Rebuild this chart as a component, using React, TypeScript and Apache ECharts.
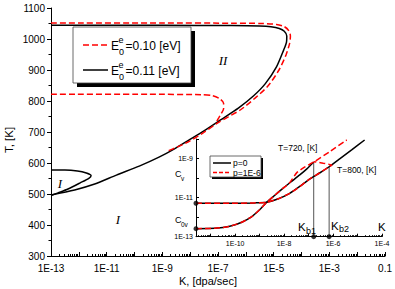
import { useEffect, useRef } from "react";
import * as echarts from "echarts";

// ---------- Main chart: points are [log10 K (dpa/sec), T (K)] ----------
const blackMain: number[][] = [
  [-13, 1044], [-9, 1044], [-6.5, 1043.5], [-5.5, 1042], [-5.1, 1039.5], [-4.8, 1034],
  [-4.62, 1025], [-4.53, 1010], [-4.54, 990], [-4.64, 965], [-4.9, 910], [-5.3, 856],
  [-5.73, 816], [-6.27, 777], [-6.91, 739], [-7.52, 703], [-8.05, 674], [-8.58, 645],
  [-9.12, 619], [-9.83, 590], [-10.65, 561], [-11.43, 532], [-12.15, 513], [-13, 497],
];
const blackLoopI: number[][] = [
  [-13, 577.5], [-12.5, 577.5], [-12.05, 574.5], [-11.73, 568], [-11.56, 560], [-11.63, 551.5],
  [-11.95, 536], [-12.39, 516], [-12.75, 503.5], [-13, 495],
];
const redUpper: number[][] = [
  [-13, 1051.5], [-9, 1051.5], [-6.5, 1051], [-5.4, 1050], [-4.9, 1047], [-4.62, 1040],
  [-4.46, 1027], [-4.4, 1010], [-4.43, 985], [-4.56, 948], [-4.81, 900], [-5.2, 849],
  [-5.66, 810], [-6.2, 771], [-6.63, 749], [-6.98, 731], [-7.52, 698], [-8.05, 669],
  [-8.48, 651], [-8.83, 638],
];
const redLoop: number[][] = [
  [-13, 821.5], [-9.5, 821.5], [-7.6, 820.5], [-7.2, 817], [-6.95, 808], [-6.8, 793],
  [-6.8, 775], [-6.88, 760], [-6.97, 746], [-7.05, 734],
];

// ---------- Inset: points are [log10 K, log10 Cv] ----------
const c720Black: number[][] = [
  [-11.6, -12.59], [-10.83, -12.57], [-10.22, -12.47], [-9.73, -12.26], [-9.32, -11.97],
  [-8.99, -11.61], [-8.72, -11.25], [-8.39, -10.89], [-8.05, -10.53], [-7.77, -10.24],
  [-7.36, -9.84], [-7.07, -9.53], [-6.79, -9.18],
];
const c720Red: number[][] = [
  [-11.6, -12.59], [-10.83, -12.57], [-10.22, -12.47], [-9.73, -12.26], [-9.32, -11.97],
  [-8.99, -11.61], [-8.72, -11.25], [-8.39, -10.89], [-8.05, -10.53], [-7.77, -10.24],
  [-7.48, -9.72], [-7.15, -9.43], [-6.79, -9.18], [-6.13, -8.64], [-5.44, -8.05],
];
const c800Black: number[][] = [
  [-11.6, -11.29], [-10.22, -11.29], [-9.2, -11.27], [-8.72, -11.24], [-8.26, -11.07],
  [-7.77, -10.78], [-7.36, -10.43], [-6.96, -10.05], [-6.55, -9.74], [-6.16, -9.42],
  [-5.73, -9.02], [-5.24, -8.56], [-4.71, -8.05],
];
const c800Red: number[][] = [
  [-11.6, -11.29], [-10.22, -11.29], [-9.2, -11.27], [-8.72, -11.24], [-8.26, -11.07],
  [-7.77, -10.78], [-7.36, -10.43], [-6.96, -10.05], [-6.55, -9.74], [-6.16, -9.42],
  [-6.05, -9.34], [-6.4, -9.24], [-6.79, -9.16],
];
const kb1Line: number[][] = [[-6.79, -13], [-6.79, -9.18]];
const kb2Line: number[][] = [[-6.16, -13], [-6.16, -9.42]];
const insetDots: number[][] = [[-11.6, -11.29], [-11.6, -12.59], [-6.79, -13], [-6.16, -13]];

// ---------- Tick labels ----------
const mainXLabelExps = [-13, -11, -9, -7, -5, -3, -1];
const mainXDecades = [-13, -12, -11, -10, -9, -8, -7, -6, -5, -4, -3, -2, -1];
const insetXLabelExps = [-10, -8, -6, -4];
const insetXDecades = [-11, -10, -9, -8, -7, -6, -5, -4];
const insetYLabelExps = [-13, -11, -9];
const insetYDecades = [-13, -12, -11, -10, -9, -8];

const FONT = "'Liberation Sans', Arial, Helvetica, sans-serif";
const SERIF = "'Liberation Serif', 'Times New Roman', serif";
const RED = "#ff0000";

function minorLogTicks(fromDec: number, toDec: number, lo: number, hi: number) {
  const out: number[] = [];
  for (let d = fromDec; d <= toDec; d++) {
    for (let m = 2; m <= 9; m++) {
      const v = d + Math.log10(m);
      if (v > lo && v < hi) out.push(v);
    }
  }
  return out;
}

function txt(x: number, y: number, text: string, fontSize: number, extra: any = {}, rotation = 0) {
  return {
    type: "text",
    x,
    y,
    z: 100,
    rotation,
    style: {
      text,
      fontSize,
      fontFamily: FONT,
      fill: "#000",
      align: "left",
      verticalAlign: "middle",
      textAlign: "left",
      textVerticalAlign: "middle",
      ...extra,
    },
  };
}

function hline(x1: number, x2: number, y: number, color: string, dash?: number[]) {
  return {
    type: "line",
    z: 101,
    shape: { x1, y1: y, x2, y2: y },
    style: { stroke: color, lineWidth: 1.5, lineDash: dash || null },
  };
}

export default function App() {
  const ref = useRef<HTMLDivElement>(null);

  useEffect(() => {
    document.body.style.margin = "0";
    if (!ref.current) return;
    const chart = echarts.init(ref.current, null, { renderer: "svg" });

    const axisLineStyle = { color: "#000", width: 1 };
    const fmtMain = (v: number) => (Math.abs(v + 1) < 1e-9 ? "0.1" : "1E" + Math.round(v));
    const fmtExp = (v: number) => "1E" + Math.round(v);

    const lineSeries = (data: number[][], color: string, dashed: boolean, xi: number, yi: number, smooth = 0.25) => ({
      type: "line",
      xAxisIndex: xi,
      yAxisIndex: yi,
      data,
      showSymbol: false,
      symbol: "none",
      smooth,
      clip: false,
      lineStyle: { color, width: 1.5, type: dashed ? [6, 3] : "solid" },
      z: dashed ? 4 : 3,
    });

    const option: any = {
      animation: false,
      textStyle: { fontFamily: FONT },
      grid: [
        { left: 51, top: 8, width: 336, height: 248 },
        { left: 196, top: 139, width: 186, height: 97.7 },
      ],
      xAxis: [
        {
          gridIndex: 0, type: "value", min: -13, max: -1, position: "bottom",
          axisLine: { show: true, onZero: false, lineStyle: axisLineStyle },
          axisTick: { show: true, inside: true, length: 4, customValues: mainXDecades, lineStyle: axisLineStyle },
          axisLabel: { customValues: mainXLabelExps, formatter: fmtMain, fontSize: 10, color: "#000", margin: 7, fontFamily: FONT },
          splitLine: { show: false },
        },
        {
          gridIndex: 0, type: "value", min: -13, max: -1, position: "bottom",
          axisLine: { show: false, onZero: false },
          axisTick: { show: true, inside: true, length: 2, customValues: minorLogTicks(-13, -2, -13, -1), lineStyle: axisLineStyle },
          axisLabel: { show: false },
          splitLine: { show: false },
        },
        {
          gridIndex: 1, type: "value", min: -11.6, max: -4, position: "bottom",
          axisLine: { show: true, onZero: false, lineStyle: axisLineStyle },
          axisTick: { show: true, inside: true, length: 3, customValues: insetXDecades, lineStyle: axisLineStyle },
          axisLabel: { customValues: insetXLabelExps, formatter: fmtExp, fontSize: 7, color: "#000", margin: 3, fontFamily: FONT },
          splitLine: { show: false },
        },
        {
          gridIndex: 1, type: "value", min: -11.6, max: -4, position: "bottom",
          axisLine: { show: false, onZero: false },
          axisTick: { show: true, inside: true, length: 1.5, customValues: minorLogTicks(-12, -5, -11.6, -4), lineStyle: axisLineStyle },
          axisLabel: { show: false },
          splitLine: { show: false },
        },
      ],
      yAxis: [
        {
          gridIndex: 0, type: "value", min: 300, max: 1100, interval: 100,
          axisLine: { show: true, onZero: false, lineStyle: axisLineStyle },
          axisTick: { show: true, inside: false, length: 4, lineStyle: axisLineStyle },
          minorTick: { show: true, splitNumber: 2, length: 2.5, lineStyle: axisLineStyle },
          axisLabel: { fontSize: 10, color: "#000", margin: 6, fontFamily: FONT, formatter: (v: number) => String(v) },
          splitLine: { show: false },
          minorSplitLine: { show: false },
        },
        {
          gridIndex: 1, type: "value", min: -13, max: -8,
          axisLine: { show: true, onZero: false, lineStyle: axisLineStyle },
          axisTick: { show: true, inside: true, length: 3, customValues: insetYDecades, lineStyle: axisLineStyle },
          axisLabel: { customValues: insetYLabelExps, formatter: fmtExp, fontSize: 7, color: "#000", margin: 3, fontFamily: FONT },
          splitLine: { show: false },
        },
      ],
      series: [
        lineSeries(blackMain, "#000", false, 0, 0),
        lineSeries(blackLoopI, "#000", false, 0, 0),
        lineSeries(redUpper, RED, true, 0, 0),
        lineSeries(redLoop, RED, true, 0, 0),
        {
          type: "line", xAxisIndex: 2, yAxisIndex: 1, data: kb1Line, showSymbol: false, symbol: "none",
          lineStyle: { color: "#555", width: 1 }, z: 2,
        },
        {
          type: "line", xAxisIndex: 2, yAxisIndex: 1, data: kb2Line, showSymbol: false, symbol: "none",
          lineStyle: { color: "#555", width: 1 }, z: 2,
        },
        lineSeries(c720Black, "#000", false, 2, 1, 0.2),
        lineSeries(c800Black, "#000", false, 2, 1, 0.2),
        lineSeries(c720Red, RED, true, 2, 1, 0.2),
        lineSeries(c800Red, RED, true, 2, 1, 0.2),
        {
          type: "scatter", xAxisIndex: 2, yAxisIndex: 1, data: insetDots, symbol: "circle",
          symbolSize: 5, itemStyle: { color: "#000" }, clip: false, z: 6,
        },
      ],
      graphic: [
        // main legend
        { type: "rect", z: 99, shape: { x: 77, y: 31, width: 118, height: 56 }, style: { fill: "#000" } },
        { type: "rect", z: 100, shape: { x: 73, y: 27, width: 118, height: 56 }, style: { fill: "#fff", stroke: "#444", lineWidth: 0.8 } },
        hline(83, 108, 45, RED, [6, 3]),
        txt(111, 45.5, "E", 12),
        txt(118.5, 39.5, "e", 9),
        txt(119, 51.5, "0", 9),
        txt(125.5, 45.5, "=0.10 [eV]", 12),
        hline(83, 108, 70, "#000"),
        txt(111, 70.5, "E", 12),
        txt(118.5, 64.5, "e", 9),
        txt(119, 76.5, "0", 9),
        txt(125.5, 70.5, "=0.11 [eV]", 12),
        // inset legend
        { type: "rect", z: 99, shape: { x: 212, y: 158, width: 51, height: 21 }, style: { fill: "#000" } },
        { type: "rect", z: 100, shape: { x: 210, y: 156, width: 51, height: 21 }, style: { fill: "#fff", stroke: "#444", lineWidth: 0.8 } },
        hline(213, 231, 163, "#000"),
        txt(233, 163, "p=0", 8.5),
        hline(213, 231, 172.5, RED, [4, 2]),
        txt(233, 172.5, "p=1E-6", 8.5),
        // axis titles
        txt(9, 140, "T, [K]", 11.5, { align: "center", textAlign: "center" }, Math.PI / 2),
        txt(208, 281, "K, [dpa/sec]", 11, { align: "center", textAlign: "center" }),
        // inset annotations
        txt(278, 148, "T=720, [K]", 8.5),
        txt(337, 169.5, "T=800, [K]", 8.5),
        txt(175, 173.5, "C", 9),
        txt(181, 178.5, "v", 6.5),
        txt(175, 219.5, "C", 9),
        txt(181, 224.5, "0v", 6.5),
        txt(298, 226.5, "K", 11.5),
        txt(306, 230.5, "b1", 9),
        txt(331, 225.5, "K", 11.5),
        txt(339, 229, "b2", 9),
        txt(378, 227, "K", 11.5),
        // region labels
        txt(223, 60, "II", 13, { align: "center", textAlign: "center", fontFamily: SERIF, fontStyle: "italic" }),
        txt(60, 183, "I", 13, { align: "center", textAlign: "center", fontFamily: SERIF, fontStyle: "italic" }),
        txt(118, 219, "I", 13, { align: "center", textAlign: "center", fontFamily: SERIF, fontStyle: "italic" }),
      ],
    };

    chart.setOption(option);
    return () => chart.dispose();
  }, []);

  return <div ref={ref} style={{ width: 395, height: 289 }} />;
}
